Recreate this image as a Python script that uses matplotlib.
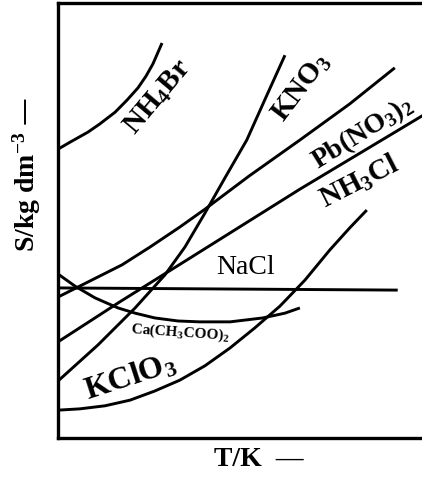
import matplotlib
matplotlib.use("Agg")
import matplotlib.pyplot as plt

plt.rcParams['font.family'] = ['Liberation Serif', 'DejaVu Serif']
plt.rcParams['font.weight'] = 'bold'
plt.rcParams['mathtext.default'] = 'regular'

# solubility curves, arbitrary units (T and S both 0..100)
nh4br_t = [0, 3.3, 8.2, 11.5, 15.7, 19.0, 22.0, 24.2, 26.1, 28.6]
nh4br_s = [66.4, 68.0, 70.3, 72.2, 74.9, 77.7, 80.5, 83.2, 86.0, 90.8]

kno3_t = [0, 11.0, 21.2, 29.4, 34.9, 40.4, 45.9, 51.9, 57.1, 62.4]
kno3_s = [13.1, 21.4, 29.9, 37.5, 43.9, 51.7, 59.8, 68.5, 78.2, 88.0]

pbno3_t = [0, 8.8, 17.6, 25.3, 33.5, 40.4, 52.5, 66.5, 80.2, 92.6]
pbno3_s = [32.4, 36.1, 39.8, 43.9, 48.5, 52.6, 60.2, 68.5, 76.8, 85.1]

nh4cl_t = [0, 17.0, 35.4, 66.5, 102]
nh4cl_s = [22.1, 31.3, 40.9, 57.2, 75.0]

nacl_t = [0, 93.4]
nacl_s = [34.5, 34.0]

caac_t = [0, 4.7, 10.2, 16.5, 21.2, 26.6, 33.0, 39.0, 47.3, 56.3, 62.4, 66.5]
caac_s = [37.7, 34.9, 32.2, 29.9, 28.7, 27.6, 26.9, 26.7, 26.7, 27.6, 28.7, 29.9]

kclo3_t = [0, 6.0, 12.9, 19.8, 26.6, 33.5, 40.4, 47.3, 54.1, 61.0, 67.9,
           74.7, 80.2, 84.9]
kclo3_s = [6.4, 6.7, 7.4, 8.7, 10.8, 13.3, 16.6, 20.7, 25.3, 30.3, 36.3,
           43.2, 48.3, 52.4]

fig = plt.figure(figsize=(4.22, 4.79), dpi=100)
ax = fig.add_axes([58 / 422, 41 / 479, 371 / 422, 435 / 479])
ax.set_xlim(0, 102)
ax.set_ylim(0, 100)

lw = 2.1
for t, s in [(nh4br_t, nh4br_s), (kno3_t, kno3_s), (pbno3_t, pbno3_s),
             (nh4cl_t, nh4cl_s), (nacl_t, nacl_s), (caac_t, caac_s),
             (kclo3_t, kclo3_s)]:
    ax.plot(t, s, color='black', lw=lw, solid_capstyle='butt',
            solid_joinstyle='round')

ax.set_xticks([])
ax.set_yticks([])
for sp in ax.spines.values():
    sp.set_linewidth(2.4)

kw = dict(ha='center', va='center', color='black', rotation_mode='anchor')
ax.text(27.5, 78.4, r'NH$_4$Br', fontsize=21, rotation=50, **kw)
ax.text(67.0, 80.5, r'KNO$_3$', fontsize=21, rotation=53, **kw)
ax.text(83.8, 70.1, r'Pb(NO$_3$)$_2$', fontsize=20, rotation=32, **kw)
ax.text(83.0, 58.9, r'NH$_3$Cl', fontsize=21, rotation=27, **kw)
ax.text(51.6, 39.1, 'NaCl', fontsize=20, fontweight='normal', **kw)
ax.text(33.5, 24.1, r'Ca(CH$_3$COO)$_2$', fontsize=11, rotation=-4, **kw)
ax.text(19.8, 14.0, r'KClO$_3$', fontsize=23, rotation=18, **kw)

fig.text(27 / 422, 1 - 175 / 479, r'S/kg dm$^{-3}$ —', rotation=90,
         ha='center', va='center', fontsize=20)
fig.text(259 / 422, 1 - 460 / 479, 'T/K  —', ha='center', va='center',
         fontsize=20)

fig.savefig('out.png', dpi=100)
